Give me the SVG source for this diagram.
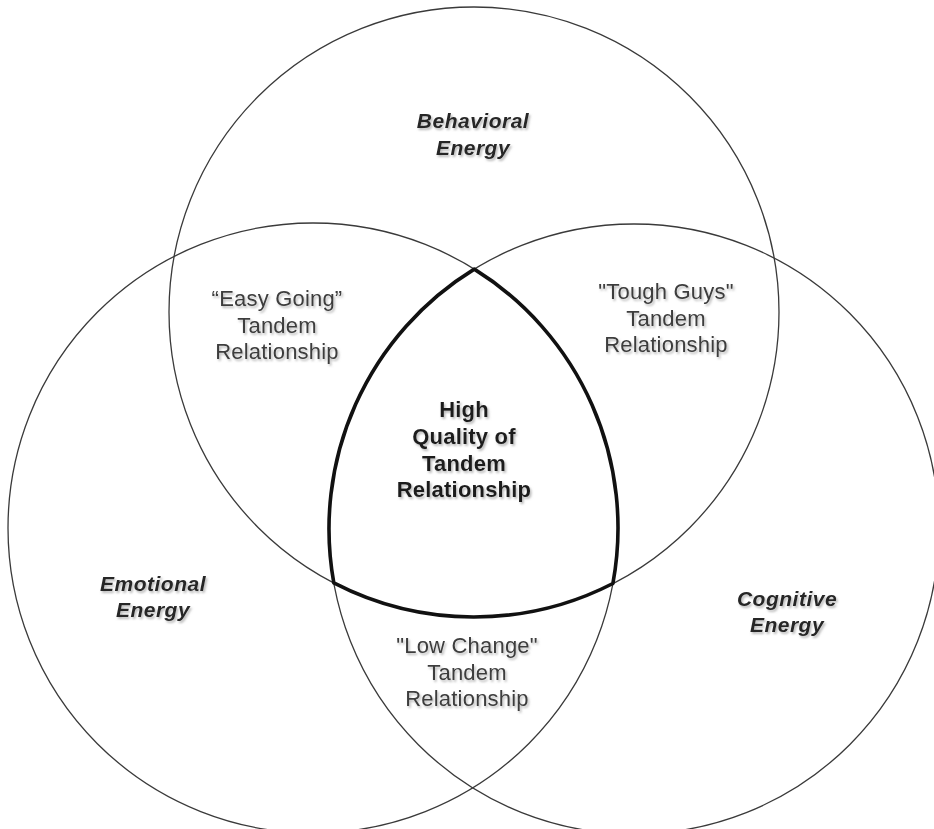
<svg xmlns="http://www.w3.org/2000/svg" width="934" height="829" viewBox="0 0 934 829">
<defs>
<style>
.circle{fill:none;stroke:#3a3a3a;stroke-width:1.3}
.core{fill:none;stroke:#111;stroke-width:3.6;stroke-linejoin:round}
text{font-family:"Liberation Sans",Arial,sans-serif;text-anchor:middle;font-size:22px;letter-spacing:0.2px}
.reg{fill:#3c3c3c}
.head{fill:#262626;font-weight:bold;font-style:italic;font-size:21px;letter-spacing:0.5px}
.bold{fill:#1e1e1e;font-weight:bold}
</style>
<filter id="sh" x="-10%" y="-30%" width="130%" height="170%">
<feDropShadow dx="1.5" dy="2" stdDeviation="1" flood-color="#888" flood-opacity="0.6"/>
</filter>
</defs>
<rect width="934" height="829" fill="#fff"/>
<g id="circle-behavioral"><circle class="circle" cx="474" cy="312" r="305"/></g>
<g id="circle-emotional"><circle class="circle" cx="313" cy="528" r="305"/></g>
<g id="circle-cognitive"><circle class="circle" cx="634" cy="529" r="305"/></g>
<g id="connectors">
<path id="core-outline" class="core" d="M474.3 269.1 A305 305 0 0 0 333.8 582.9 A305 305 0 0 0 612.9 583.5 A305 305 0 0 0 474.3 269.1 Z"/>
</g>
<g id="label-behavioral" filter="url(#sh)">
<text class="head" x="473" y="128">Behavioral</text>
<text class="head" x="473" y="155">Energy</text>
</g>
<g id="label-emotional" filter="url(#sh)">
<text class="head" x="153" y="591">Emotional</text>
<text class="head" x="153" y="617">Energy</text>
</g>
<g id="label-cognitive" filter="url(#sh)">
<text class="head" x="787" y="606">Cognitive</text>
<text class="head" x="787" y="632">Energy</text>
</g>
<g id="label-easy-going" filter="url(#sh)">
<text class="reg" x="277" y="306">“Easy Going”</text>
<text class="reg" x="277" y="333">Tandem</text>
<text class="reg" x="277" y="359">Relationship</text>
</g>
<g id="label-tough-guys" filter="url(#sh)">
<text class="reg" x="666" y="299">"Tough Guys"</text>
<text class="reg" x="666" y="326">Tandem</text>
<text class="reg" x="666" y="352">Relationship</text>
</g>
<g id="label-low-change" filter="url(#sh)">
<text class="reg" x="467" y="653">"Low Change"</text>
<text class="reg" x="467" y="680">Tandem</text>
<text class="reg" x="467" y="706">Relationship</text>
</g>
<g id="label-core" filter="url(#sh)">
<text class="bold" x="464" y="417">High</text>
<text class="bold" x="464" y="444">Quality of</text>
<text class="bold" x="464" y="471">Tandem</text>
<text class="bold" x="464" y="497">Relationship</text>
</g>
</svg>
